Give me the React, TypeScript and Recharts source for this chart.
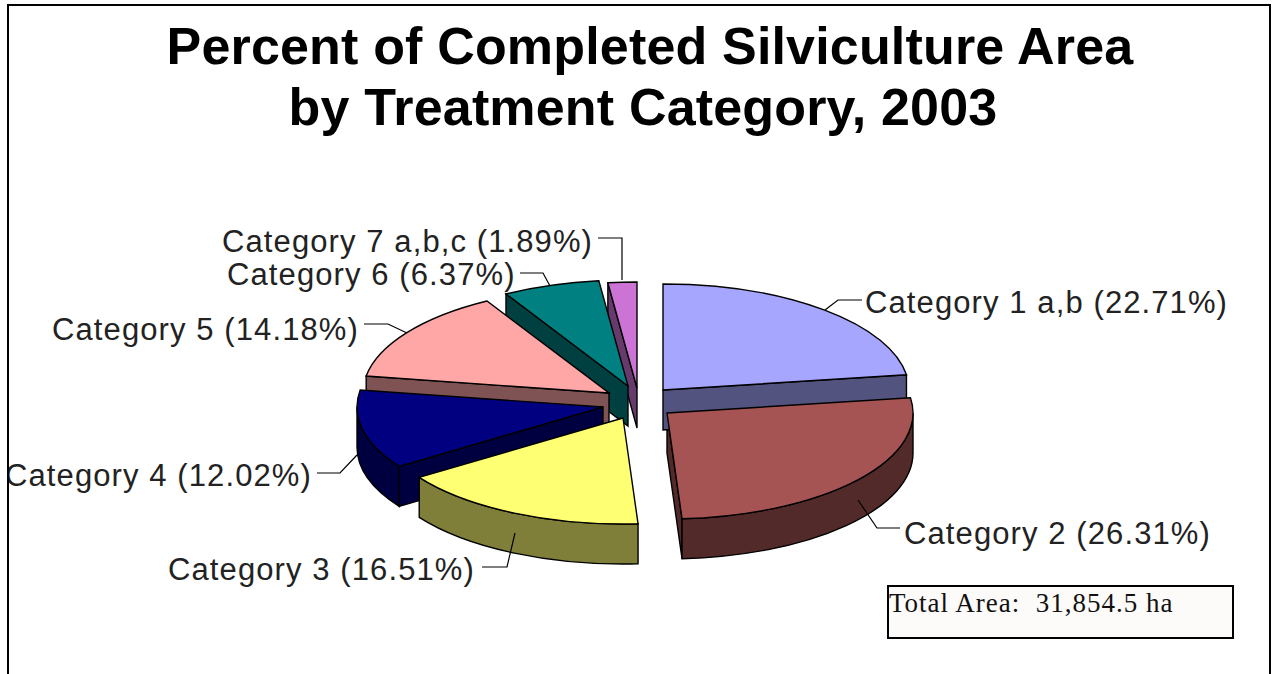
import React from "react";
import { PieChart, Pie } from "recharts";

const categories = [
    "Category 1 a,b",
    "Category 2",
    "Category 3",
    "Category 4",
    "Category 5",
    "Category 6",
    "Category 7 a,b,c",
];
const percents = [22.71, 26.31, 16.51, 12.02, 14.18, 6.37, 1.89];

const topColors = ["#A6A6FF", "#A65353", "#FFFF73", "#000080", "#FFA6A6", "#008080", "#CC73D6"];
const sideColors = ["#53537F", "#532A2A", "#7F7F3A", "#000040", "#7F5353", "#004040", "#663A6B"];

// how far each slice is pulled out of the pie, in px
const explode = [
    [28, -10],
    [32, 13],
    [-12, 18],
    [-32, 7],
    [-26, -7],
    [-7, -14],
    [2, -12],
];

// label text position and the elbow leader line
const labelLayout = [
    { x: 865, y: 313, line: "825,310 838,300 862,300" },
    { x: 904, y: 544, line: "858,500 877,528 900,528" },
    { x: 168, y: 580, line: "515,533 507,567 482,567" },
    { x: 5, y: 486, line: "357,455 340,473 317,473" },
    { x: 52, y: 340, line: "407,333 388,324 364,324" },
    { x: 227, y: 285, line: "550,286 543,273 520,273" },
    { x: 222, y: 252, line: "622,280 622,238 598,238" },
];

const tableData = categories.map((name, i) => ({ name, value: percents[i] }));
const reversedData = [...tableData].reverse();

const CX = 635;
const CY = 400;
const RX = 246;
const RY = 106;
const DEPTH = 40;
const EDGE = 1.4;

const toRad = (deg: number) => (deg * Math.PI) / 180;
const rimPoint = (x: number, y: number, a: number, dy = 0) => [
    x + RX * Math.sin(toRad(a)),
    y - RY * Math.cos(toRad(a)) + dy,
];

// angles here run clockwise from 12 o'clock
const sliceInfo = (props: any) => {
    const i = categories.indexOf(props.name);
    const a1 = 90 - Math.max(props.startAngle, props.endAngle);
    const a2 = 90 - Math.min(props.startAngle, props.endAngle);
    const x = props.cx + explode[i][0];
    const y = props.cy + explode[i][1];
    return { i, a1, a2, x, y };
};

const TopFace = (props: any) => {
    const { i, a1, a2, x, y } = sliceInfo(props);
    const [sx, sy] = rimPoint(x, y, a1);
    const [ex, ey] = rimPoint(x, y, a2);
    const large = a2 - a1 > 180 ? 1 : 0;
    const d = `M${x},${y} L${sx},${sy} A${RX},${RY} 0 ${large} 1 ${ex},${ey} Z`;
    return <path d={d} fill={topColors[i]} stroke="#000" strokeWidth={EDGE} />;
};

const SideFaces = (props: any) => {
    const { i, a1, a2, x, y } = sliceInfo(props);
    const fill = sideColors[i];
    const paths: string[] = [];

    // cut wall on the leading edge faces the viewer if its normal points down the screen
    const wall = (a: number) => {
        const [px, py] = rimPoint(x, y, a);
        return `M${x},${y} L${px},${py} L${px},${py + DEPTH} L${x},${y + DEPTH} Z`;
    };
    if (-Math.sin(toRad(a1)) > 0.001) paths.push(wall(a1));
    if (Math.sin(toRad(a2)) > 0.001) paths.push(wall(a2));

    // outer rim, only the front half of the ellipse shows
    const r1 = Math.max(a1, 90);
    const r2 = Math.min(a2, 270);
    if (r2 > r1) {
        const [sx, sy] = rimPoint(x, y, r1);
        const [ex, ey] = rimPoint(x, y, r2);
        paths.push(
            `M${sx},${sy} A${RX},${RY} 0 0 1 ${ex},${ey} L${ex},${ey + DEPTH} A${RX},${RY} 0 0 0 ${sx},${sy + DEPTH} Z`
        );
    }
    return (
        <g>
            {paths.map((d, k) => (
                <path key={k} d={d} fill={fill} stroke="#000" strokeWidth={EDGE} />
            ))}
        </g>
    );
};

const SliceLabel = (props: any) => {
    const i = categories.indexOf(props.name);
    const pos = labelLayout[i];
    return (
        <g>
            <polyline points={pos.line} fill="none" stroke="#000" strokeWidth={1.2} />
            <text
                x={pos.x}
                y={pos.y}
                fontFamily="Liberation Sans"
                fontSize={31}
                letterSpacing={1.1}
                fill="#222"
                textAnchor="start"
            >
                {`${props.name} (${percents[i].toFixed(2)}%)`}
            </text>
        </g>
    );
};

const titleStyle: React.CSSProperties = {
    position: "absolute",
    width: 1300,
    textAlign: "center",
    fontFamily: "Liberation Sans",
    fontWeight: "bold",
    fontSize: 52,
    letterSpacing: 0.17,
    lineHeight: "61px",
    color: "#000",
    whiteSpace: "pre",
};

export default function App() {
    return (
        <div style={{ position: "absolute", left: 0, top: 0, width: 1272, height: 674, background: "#fff", overflow: "hidden" }}>
            <div style={{ ...titleStyle, left: 0, top: 16 }}>Percent of Completed Silviculture Area</div>
            <div style={{ ...titleStyle, left: -7, top: 77 }}>by Treatment Category, 2003</div>

            <div style={{ position: "absolute", left: 0, top: 0 }}>
                <PieChart width={1272} height={674} margin={{ top: 0, right: 0, bottom: 0, left: 0 }}>
                    {/* sides go first, back slice to front, so every top face lies above them */}
                    <Pie
                        data={reversedData}
                        dataKey="value"
                        nameKey="name"
                        cx={CX}
                        cy={CY}
                        outerRadius={RX}
                        startAngle={-270}
                        endAngle={90}
                        shape={SideFaces}
                        stroke="none"
                        isAnimationActive={false}
                    />
                    <Pie
                        data={tableData}
                        dataKey="value"
                        nameKey="name"
                        cx={CX}
                        cy={CY}
                        outerRadius={RX}
                        startAngle={90}
                        endAngle={-270}
                        shape={TopFace}
                        label={SliceLabel}
                        labelLine={false}
                        stroke="none"
                        isAnimationActive={false}
                    />
                </PieChart>
            </div>

            <div
                style={{
                    position: "absolute",
                    left: 887,
                    top: 585,
                    width: 343,
                    height: 50,
                    border: "2px solid #000",
                    boxSizing: "content-box",
                    background: "#FCFBF9",
                    fontFamily: "Liberation Serif",
                    fontSize: 27,
                    letterSpacing: 1,
                    lineHeight: "32px",
                    whiteSpace: "pre",
                    color: "#111",
                }}
            >
                Total Area:  31,854.5 ha
            </div>

            {/* outer frame, open at the bottom */}
            <div style={{ position: "absolute", left: 0, top: 0, width: 7, height: 674, background: "#fff" }} />
            <div style={{ position: "absolute", left: 7, top: 4, width: 2, height: 670, background: "#000" }} />
            <div style={{ position: "absolute", left: 7, top: 4, width: 1263, height: 2, background: "#000" }} />
            <div style={{ position: "absolute", left: 1269, top: 4, width: 2, height: 670, background: "#000" }} />
        </div>
    );
}
